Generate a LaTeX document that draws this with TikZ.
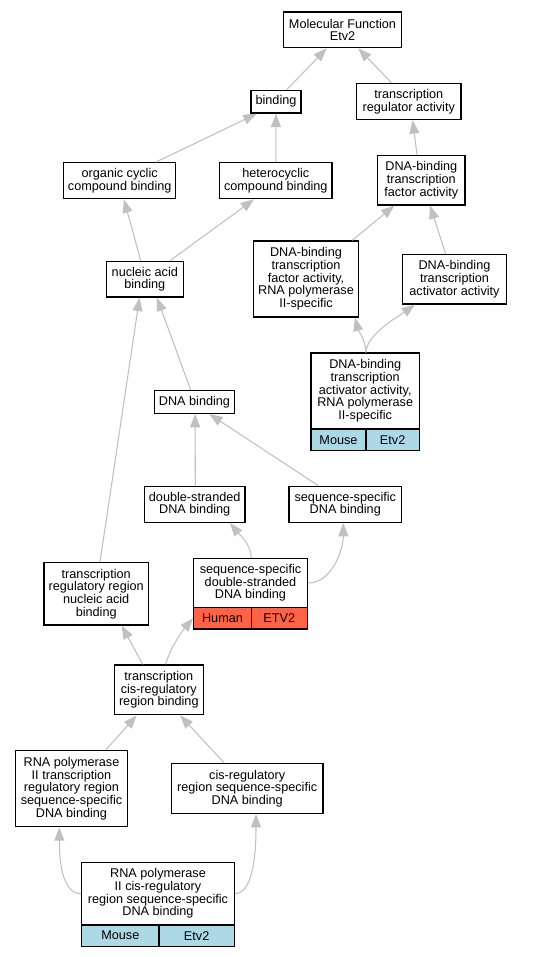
\documentclass[tikz,border=0pt]{standalone}
\usepackage{fontspec}
\setmainfont{Liberation Sans}
\usetikzlibrary{arrows.meta}
\definecolor{edgegray}{HTML}{C0C0C0}
\definecolor{human}{HTML}{FF6347}
\definecolor{mouse}{HTML}{ADD8E6}
\tikzset{
  bx/.style 2 args={draw=black, line width=1pt, fill=white, inner sep=0pt, align=center,
    font=\fontsize{9.5}{9.5}\selectfont, minimum width=#1*0.75pt, minimum height=#2*0.75pt},
  edge/.style={draw=edgegray, line width=0.8pt, -{Triangle[length=10pt, width=7.5pt, fill=edgegray]}}
}
\begin{document}
\begin{tikzpicture}[x=0.75pt, y=-0.75pt]
\useasboundingbox (0,0) rectangle (535,957);
% nodes
\node[bx={117.7}{35.7}] (mf) at (342.5,29.8) {Molecular Function\\Etv2};
\node[bx={50}{22.7}] (bind) at (276,101.7) {binding};
\node[bx={104.3}{36}] (tra) at (408.8,101.7) {transcription\\regulator activity};
\node[bx={112}{36}] (org) at (119.7,180.7) {organic cyclic\\compound binding};
\node[bx={112.3}{36}] (het) at (275.8,180.7) {heterocyclic\\compound binding};
\node[bx={87.3}{49.3}] (dtf) at (421.3,180.3) {DNA-binding\\transcription\\factor activity};
\node[bx={77}{35.7}] (nab) at (144.8,279.2) {nucleic acid\\binding};
\node[bx={104.7}{76}] (dtfp) at (306,279) {DNA-binding\\transcription\\factor activity,\\RNA polymerase\\II-specific};
\node[bx={104.3}{49.3}] (dta) at (454.5,279.3) {DNA-binding\\transcription\\activator activity};
\node[bx={108.3}{76}] (dtap) at (365.2,391) {DNA-binding\\transcription\\activator activity,\\RNA polymerase\\II-specific};
\node[bx={55}{21.7}, fill=mouse] (dtapL) at (338.5,439.85) {Mouse};
\node[bx={53.3}{21.7}, fill=mouse] (dtapR) at (392.65,439.85) {Etv2};
\node[bx={79.7}{22.7}] (db) at (194.5,402) {DNA binding};
\node[bx={100.7}{36}] (dsd) at (194.7,504.3) {double-stranded\\DNA binding};
\node[bx={112.7}{36}] (ssd) at (345.3,504.3) {sequence-specific\\DNA binding};
\node[bx={104.3}{62.3}] (trn) at (96.2,593.8) {transcription\\regulatory region\\nucleic acid\\binding};
\node[bx={113.6}{48.6}] (ssds) at (250.5,583) {sequence-specific\\double-stranded\\DNA binding};
\node[bx={57.6}{21.7}, fill=human] (ssdsL) at (222.5,618.15) {Human};
\node[bx={56}{21.7}, fill=human] (ssdsR) at (279.3,618.15) {ETV2};
\node[bx={89}{49.7}] (tcr) at (158.8,689.8) {transcription\\cis-regulatory\\region binding};
\node[bx={112.3}{76.3}] (rpt) at (71.5,788.5) {RNA polymerase\\II transcription\\regulatory region\\sequence-specific\\DNA binding};
\node[bx={151.7}{49.7}] (crs) at (247.2,788.5) {cis-regulatory\\region sequence-specific\\DNA binding};
\node[bx={152.6}{62.7}] (rpc) at (158,893.65) {RNA polymerase\\II cis-regulatory\\region sequence-specific\\DNA binding};
\node[bx={77.3}{21.3}, fill=mouse] (rpcL) at (120.35,935.65) {Mouse};
\node[bx={75.3}{21.3}, fill=mouse] (rpcR) at (196.65,935.65) {Etv2};
% edges
\draw[edge] ([xshift=10.7*0.75pt]bind.north) -- ([xshift=-15.8*0.75pt]mf.south);
\draw[edge] ([xshift=-17.1*0.75pt]tra.north) -- ([xshift=15.8*0.75pt]mf.south);
\draw[edge] ([xshift=36.3*0.75pt]org.north) -- ([xshift=-19.3*0.75pt]bind.south);
\draw[edge] (het.north) -- (bind.south);
\draw[edge] ([xshift=-4.3*0.75pt]dtf.north) -- ([xshift=3.9*0.75pt]tra.south);
\draw[edge] ([xshift=-4.1*0.75pt]nab.north) -- ([xshift=4.3*0.75pt]org.south);
\draw[edge] ([xshift=25.2*0.75pt]nab.north) -- ([xshift=-21.8*0.75pt]het.south);
\draw[edge] ([xshift=46.3*0.75pt]dtfp.north) -- ([xshift=-27*0.75pt]dtf.south);
\draw[edge] ([xshift=-8.8*0.75pt]dta.north) -- ([xshift=8.7*0.75pt]dtf.south);
\draw[edge] ([xshift=0.8*0.75pt]dtap.north) .. controls +(0,-12) and +(3,12) .. ([xshift=49*0.75pt]dtfp.south);
\draw[edge] ([xshift=0.8*0.75pt]dtap.north) .. controls +(0,-18) and +(-14,10) .. ([xshift=-39.5*0.75pt]dta.south);
\draw[edge] ([xshift=-3.8*0.75pt]db.north) -- ([xshift=12.2*0.75pt]nab.south);
\draw[edge] ([xshift=3.8*0.75pt]trn.north) -- ([xshift=-5.3*0.75pt]nab.south);
\draw[edge] ([xshift=0.6*0.75pt]dsd.north) -- ([xshift=0.6*0.75pt]db.south);
\draw[edge] ([xshift=-27*0.75pt]ssd.north) -- ([xshift=14.8*0.75pt]db.south);
\draw[edge] ([xshift=0.8*0.75pt]ssds.north) .. controls +(0,-14) and +(8,10) .. ([xshift=35.3*0.75pt]dsd.south);
\draw[edge] (ssds.east) .. controls +(25,0) and +(0,25) .. ([xshift=-2*0.75pt]ssd.south);
\draw[edge] ([xshift=-16.1*0.75pt]tcr.north) -- ([xshift=25.5*0.75pt]trn.south);
\draw[edge] ([xshift=6.9*0.75pt]tcr.north) .. controls +(5,-18) and +(-10,12) .. (ssdsL.west);
\draw[edge] ([xshift=34.5*0.75pt]rpt.north) -- ([xshift=-22.1*0.75pt]tcr.south);
\draw[edge] ([xshift=-22.9*0.75pt]crs.north) -- ([xshift=21.2*0.75pt]tcr.south);
\draw[edge] (rpc.west) .. controls +(-20,0) and +(0,30) .. ([xshift=-12.2*0.75pt]rpt.south);
\draw[edge] (rpc.east) .. controls +(20,0) and +(0,30) .. ([xshift=8.8*0.75pt]crs.south);
\end{tikzpicture}
\end{document}
